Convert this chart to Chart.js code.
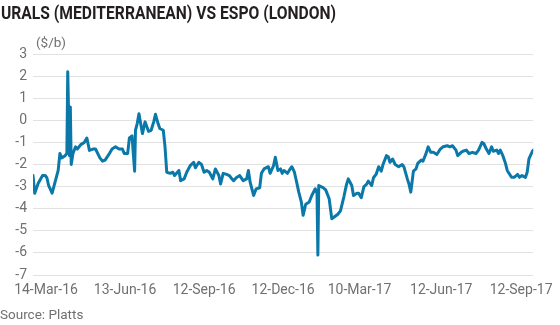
<!DOCTYPE html>
<html>
<head>
<meta charset="utf-8">
<script src="https://cdn.jsdelivr.net/npm/chart.js@4/dist/chart.umd.min.js"></script>
<style>
  html, body { margin: 0; padding: 0; background: #ffffff; }
  #wrap { width: 560px; height: 325px; position: relative; }
</style>
</head>
<body>
<div id="wrap"><canvas id="c" width="560" height="325"></canvas></div>
<script>
// ---- data (x = days since 14-Mar-2016, y = $/b spread) ----
const titleText = 'URALS (MEDITERRANEAN) VS ESPO (LONDON)';
const unitText = '($/b)';
const sourceText = 'Source: Platts';

const tickDays = [0, 91, 182, 273, 361, 455, 547];
const tickLabels = ['14-Mar-16', '13-Jun-16', '12-Sep-16', '12-Dec-16', '10-Mar-17', '12-Jun-17', '12-Sep-17'];
const yTickValues = [3, 2, 1, 0, -1, -2, -3, -4, -5, -6, -7];

const days = [
  -15,-13,-9,-4,-1,1,3,7,10,14,
  16,18,22,24,25,27,28,29,31,34,
  36,40,44,47,50,54,57,62,65,68,
  73,76,80,84,88,90,94,96,99,102,
  103,105,107,111,114,118,121,124,126,129,
  131,135,137,139,143,146,148,153,155,159,
  162,166,170,172,176,179,182,185,188,192,
  195,199,201,204,208,211,214,216,219,223,
  227,231,233,235,239,242,246,248,251,256,
  258,262,264,267,270,272,274,278,280,283,
  286,289,291,294,296,299,303,306,310,312,
  313,314,319,322,326,329,331,336,339,343,
  346,348,352,354,358,360,363,366,369,371,
  375,377,380,383,386,388,392,394,396,399,
  402,406,410,412,416,418,420,423,426,428,
  432,434,438,440,443,446,450,454,457,462,
  465,468,472,474,478,480,484,487,491,495,
  498,502,504,507,510,513,515,519,521,523,
  526,529,531,536,539,543,545,548,552,554,
  556,560,561
];
const spread = [
  -2.5,-3.3,-2.85,-2.5,-2.5,-2.6,-2.95,-3.3,-2.85,-2.27,
  -1.5,-1.7,-1.6,-1.5,2.2,-1.6,0.6,-2.0,-1.5,-1.2,
  -1.3,-1.1,-1.0,-0.8,-1.36,-1.3,-1.3,-1.7,-1.85,-1.8,
  -1.5,-1.3,-1.2,-1.3,-1.3,-1.5,-1.5,-0.8,-0.7,-2.3,
  -0.45,-0.15,0.3,-0.6,-0.07,-0.5,-0.45,-0.07,0.27,-0.15,
  -0.37,-0.45,-1.2,-2.35,-2.4,-2.35,-2.5,-2.27,-2.73,-2.65,
  -2.35,-2.05,-1.9,-2.15,-1.9,-2.0,-2.35,-2.27,-2.35,-2.65,
  -2.2,-2.5,-2.88,-2.4,-2.45,-2.5,-2.65,-2.73,-2.6,-2.5,
  -2.73,-2.65,-2.27,-2.8,-3.4,-3.1,-3.05,-2.4,-2.2,-2.1,
  -2.4,-2.05,-1.67,-2.27,-2.2,-2.4,-2.27,-2.4,-2.27,-2.1,
  -2.35,-2.88,-3.25,-3.7,-4.3,-3.8,-3.7,-3.4,-3.1,-3.3,
  -6.1,-2.95,-3.05,-3.15,-3.55,-4.45,-4.4,-4.25,-4.1,-3.45,
  -2.9,-2.65,-2.95,-3.4,-3.3,-3.3,-3.5,-3.0,-2.9,-2.75,
  -2.95,-2.6,-2.45,-2.1,-2.3,-2.0,-1.6,-1.65,-1.9,-1.75,
  -2.0,-2.1,-2.0,-2.1,-2.65,-2.9,-3.25,-2.3,-2.2,-1.95,
  -1.8,-1.85,-1.45,-1.2,-1.45,-1.45,-1.55,-1.3,-1.2,-1.15,
  -1.2,-1.15,-1.35,-1.6,-1.45,-1.4,-1.35,-1.5,-1.45,-1.5,
  -1.35,-1.0,-1.05,-1.3,-1.5,-1.2,-1.4,-1.35,-1.5,-1.35,
  -1.6,-1.95,-2.27,-2.58,-2.58,-2.45,-2.58,-2.5,-2.58,-2.35,
  -1.75,-1.4,-1.35
];

// ---- build ----
const n = Math.min(days.length, spread.length);
const points = [];
for (let i = 0; i < n; i++) points.push({ x: days[i], y: spread[i] });

const textPlugin = {
  id: 'texts',
  afterDraw(chart) {
    const ctx = chart.ctx;
    ctx.save();
    ctx.textAlign = 'left';
    ctx.textBaseline = 'alphabetic';
    ctx.fillStyle = '#231f20';
    ctx.font = 'bold 18px Roboto';
    ctx.fillText(titleText, 1, 19, 335);
    ctx.fillStyle = '#707070';
    ctx.font = '13.5px Roboto';
    ctx.fillText(unitText, chart.chartArea.left + 3, 47);
    ctx.fillText(sourceText, 0, 319);
    ctx.restore();
  }
};

new Chart(document.getElementById('c'), {
  type: 'line',
  data: {
    datasets: [{
      data: points,
      borderColor: '#0a79a9',
      borderWidth: 3,
      pointRadius: 0,
      tension: 0,
      borderJoinStyle: 'round',
      borderCapStyle: 'round',
      fill: false
    }]
  },
  options: {
    responsive: false,
    animation: false,
    layout: { padding: { top: 54, right: 20, bottom: 0, left: 0 } },
    plugins: { legend: { display: false }, tooltip: { enabled: false }, title: { display: false } },
    scales: {
      x: {
        type: 'linear',
        min: -15,
        max: 561,
        afterBuildTicks(scale) { scale.ticks = tickDays.map(v => ({ value: v })); },
        afterFit(scale) { scale.height = 50; },
        grid: { display: false, drawTicks: false },
        border: { display: false },
        ticks: {
          autoSkip: false,
          maxRotation: 0,
          minRotation: 0,
          padding: 7,
          color: '#707070',
          font: { family: 'Roboto', size: 14 },
          callback(value, index) { return tickLabels[index]; }
        }
      },
      y: {
        min: -7,
        max: 3,
        afterBuildTicks(scale) { scale.ticks = yTickValues.map(v => ({ value: v })); },
        afterFit(scale) { scale.width = 33; },
        grid: { color: '#e2e2e2', lineWidth: 1, drawTicks: false },
        border: { display: false },
        ticks: {
          padding: 6,
          color: '#707070',
          font: { family: 'Roboto', size: 14 },
          callback(value) { return String(value); }
        }
      }
    }
  },
  plugins: [textPlugin]
});
</script>
</body>
</html>
